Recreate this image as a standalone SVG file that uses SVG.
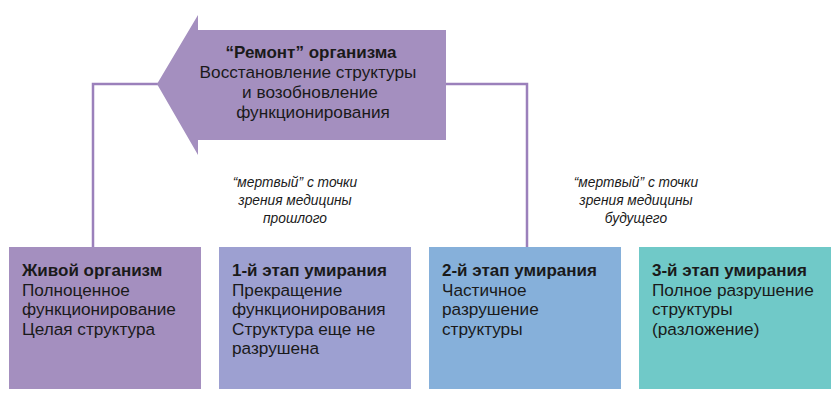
<svg xmlns="http://www.w3.org/2000/svg" width="840" height="400" viewBox="0 0 840 400">
<style>
.t{font-family:"Liberation Sans",Arial,sans-serif;font-size:17.2px;fill:#1a1a1a}
.b{font-weight:bold;font-size:17px}
.c{text-anchor:middle}
.i{font-family:"Liberation Sans",Arial,sans-serif;font-size:14.8px;font-style:italic;fill:#1a1a1a;text-anchor:middle}
.con{fill:none;stroke:#9b80bb;stroke-width:2.5}
</style>
<rect width="840" height="400" fill="#ffffff"/>
<g id="connectors">
<polyline class="con" points="93,247 93,84 160,84"/>
<polyline class="con" points="444,84 527,84 527,247"/>
</g>
<g id="repair">
<polygon points="157,84 198,15 198,30 446,30 446,140 198,140 198,155" fill="#a48fbf"/>
<text class="t c b" x="311" y="58">“Ремонт” организма</text>
<text class="t c" x="308" y="78">Восстановление структуры</text>
<text class="t c" x="310" y="98">и возобновление</text>
<text class="t c" x="313" y="118">функционирования</text>
</g>
<g id="note-past" transform="translate(295,0) scale(0.93,1)">
<text class="i" x="0" y="187">“мертвый” с точки</text>
<text class="i" x="0" y="205.5">зрения медицины</text>
<text class="i" x="0" y="223.5">прошлого</text>
</g>
<g id="note-future" transform="translate(636,0) scale(0.93,1)">
<text class="i" x="0" y="187">“мертвый” с точки</text>
<text class="i" x="0" y="205.5">зрения медицины</text>
<text class="i" x="0" y="223.5">будущего</text>
</g>
<g id="alive">
<rect x="9" y="247" width="192" height="142" fill="#a48fbf"/>
<text class="t b" x="22" y="276">Живой организм</text>
<text class="t" x="22" y="295.5">Полноценное</text>
<text class="t" x="22" y="315">функционирование</text>
<text class="t" x="22" y="334.5">Целая структура</text>
</g>
<g id="stage1">
<rect x="219" y="247" width="192" height="142" fill="#9da0d1"/>
<text class="t b" x="232" y="276">1-й этап умирания</text>
<text class="t" x="232" y="295.5">Прекращение</text>
<text class="t" x="232" y="315">функционирования</text>
<text class="t" x="232" y="334.5">Структура еще не</text>
<text class="t" x="232" y="354">разрушена</text>
</g>
<g id="stage2">
<rect x="429" y="247" width="192" height="142" fill="#86b0da"/>
<text class="t b" x="442" y="276">2-й этап умирания</text>
<text class="t" x="442" y="295.5">Частичное</text>
<text class="t" x="442" y="315">разрушение</text>
<text class="t" x="442" y="334.5">структуры</text>
</g>
<g id="stage3">
<rect x="639" y="247" width="192" height="142" fill="#70c9c8"/>
<text class="t b" x="652" y="276">3-й этап умирания</text>
<text class="t" x="652" y="295.5">Полное разрушение</text>
<text class="t" x="652" y="315">структуры</text>
<text class="t" x="652" y="334.5">(разложение)</text>
</g>
</svg>
